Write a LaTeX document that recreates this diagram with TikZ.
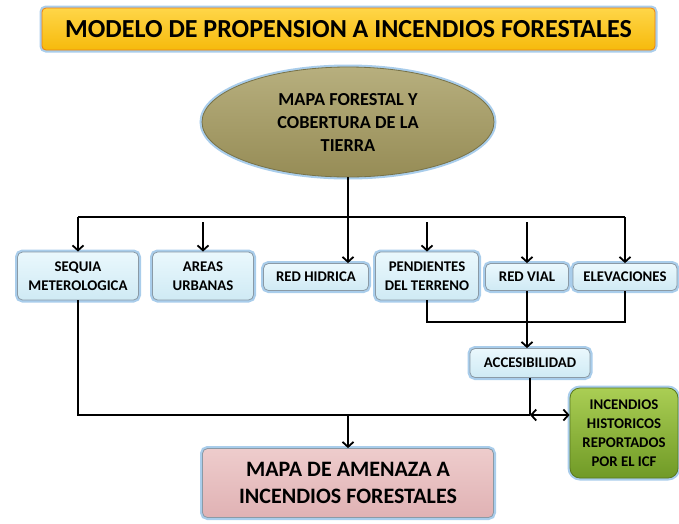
\documentclass[tikz,border=0pt]{standalone}
\usepackage{fontspec}
\setmainfont{Carlito}
\usetikzlibrary{shapes.geometric,arrows.meta}
\definecolor{glowblue}{HTML}{A9CDEB}
\definecolor{boxtop}{HTML}{EAF8FD}
\definecolor{boxbot}{HTML}{CFEAF4}
\definecolor{boxline}{HTML}{8A9AA6}
\begin{document}
\begin{tikzpicture}[x=1pt,y=-1pt,line width=1.8pt,>={Straight Barb[length=5pt,width=11pt]},
  glow/.style={preaction={draw=glowblue,line width=5pt}},
  topic/.style={glow,draw=boxline,line width=0.8pt,rounded corners=5pt,top color=boxtop,bottom color=boxbot,
    align=center,font=\bfseries\fontsize{14.8}{19}\selectfont,inner sep=0pt}]
\useasboundingbox (0,0) rectangle (679,523);

\node[glow,draw=orange!70!brown,line width=0.8pt,rounded corners=4pt,top color={rgb,255:red,255;green,214;blue,72},bottom color={rgb,255:red,246;green,186;blue,12},
  minimum width=613pt,minimum height=42pt,font=\bfseries\fontsize{26}{30}\selectfont] (title) at (348.5,29) {MODELO DE PROPENSION A INCENDIOS FORESTALES};
\node[glow,ellipse,draw={rgb,255:red,120;green,114;blue,72},line width=0.8pt,top color={rgb,255:red,183;green,175;blue,126},bottom color={rgb,255:red,150;green,140;blue,86},
  minimum width=292pt,minimum height=110pt,align=center,inner sep=0pt,font=\bfseries\fontsize{18.3}{23}\selectfont] (forest) at (348,122) {MAPA FORESTAL Y\\COBERTURA DE LA\\TIERRA};

\node[topic,minimum width=121pt,minimum height=48pt] (seq) at (78,276) {SEQUIA\\METEROLOGICA};
\node[topic,minimum width=101pt,minimum height=48pt] (urb) at (203,276) {AREAS\\URBANAS};
\node[topic,minimum width=105pt,minimum height=27pt] (hid) at (316,277) {RED HIDRICA};
\node[topic,minimum width=103pt,minimum height=48pt] (pen) at (427,276) {PENDIENTES\\DEL TERRENO};
\node[topic,minimum width=83pt,minimum height=27pt] (vial) at (527,277) {RED VIAL};
\node[topic,minimum width=104pt,minimum height=27pt] (elev) at (625,277) {ELEVACIONES};
\node[topic,minimum width=120pt,minimum height=29pt] (acc) at (530,363) {ACCESIBILIDAD};
\node[topic,draw={rgb,255:red,90;green,120;blue,30},rounded corners=10pt,top color={rgb,255:red,170;green,206;blue,84},bottom color={rgb,255:red,112;green,154;blue,38},
  minimum width=108pt,minimum height=90pt] (inc) at (624,433) {INCENDIOS\\HISTORICOS\\REPORTADOS\\POR EL ICF};
\node[topic,top color={rgb,255:red,238;green,204;blue,204},bottom color={rgb,255:red,224;green,178;blue,180},
  minimum width=291pt,minimum height=69pt,font=\bfseries\fontsize{22}{27}\selectfont] (threat) at (348,483) {MAPA DE AMENAZA A\\INCENDIOS FORESTALES};

\coordinate (bar) at (0,217);
\coordinate (gap) at (0,222);
\coordinate (join) at (0,322);
\coordinate (low) at (0,415);

\draw (seq.north |- bar) -- (elev.north |- bar);
\draw[->] (forest.south) -- (forest.south |- hid.north);
\draw[->] (seq.north |- bar) -- (seq.north);
\draw[->] (elev.north |- bar) -- (elev.north);
\foreach \n in {urb,pen,vial}
\draw[->] (\n.north |- gap) -- (\n.north);

\draw (pen.south) -- (pen.south |- join) -| (elev.south);
\draw[->] (vial.south) -- (vial.south |- acc.north);
\draw (seq.south) -- (seq.south |- low) -- (acc.south |- low);
\draw (acc.south) -- (acc.south |- low);
\draw[<->] (acc.south |- low) -- (inc.west |- low);
\draw[->] (threat.north |- low) -- (threat.north);
\end{tikzpicture}
\end{document}
